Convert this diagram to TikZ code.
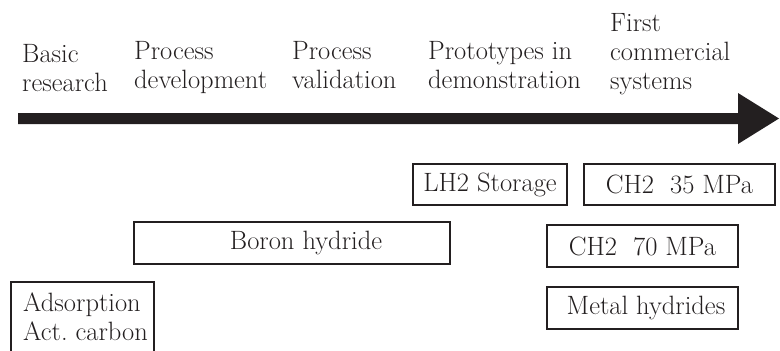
\documentclass[tikz,border=0pt]{standalone}
\definecolor{ink}{RGB}{35,31,32}
\tikzset{
  labelfont/.style={font=\fontsize{26.5}{29}\selectfont, text=ink},
  stage/.style={labelfont, anchor=base west, align=left, inner sep=0pt},
  techbox/.style={labelfont, draw=ink, line width=2.4pt, inner sep=0pt,
                  minimum height=41pt},
}
\begin{document}
\begin{tikzpicture}[x=1pt,y=-1pt]
\useasboundingbox (0,0) rectangle (780,351);
\clip (0,0) rectangle (780,351);

% timeline arrow
\coordinate (tail) at (18,118.5);
\coordinate (tip) at (779,118.5);
\fill[ink] (18,113) -- (738,113) -- (738,93) -- (tip) -- (738,144)
           -- (738,124) -- (18,124) -- cycle;

% development stages (anchored at the baseline of the last line)
\node[stage] (basic) at (22,91) {Basic\\research};
\node[stage] (pdev)  at (134,88) {Process\\development};
\node[stage] (pval)  at (292,88) {Process\\validation};
\node[stage] (proto) at (428,88) {Prototypes in\\demonstration};
\node[stage] (first) at (610,89) {First\\commercial\\systems};

% storage technologies
\node[techbox, minimum width=154pt] (lh2)   at (490,184.5) {LH2 Storage};
\node[techbox, minimum width=191pt] (ch35)  at (679.5,184.5) {CH2\ \ 35 MPa};
\node[techbox, minimum width=316pt, minimum height=42pt] (boron) at (292,243)
     {\hspace*{28pt}Boron hydride};
\node[techbox, minimum width=191pt, minimum height=42pt] (ch70)  at (642.5,246) {CH2\ \ 70 MPa};
\node[techbox, minimum width=191pt, minimum height=42pt] (metal) at (642.5,308)
     {\hspace*{7pt}Metal hydrides};

% open-bottomed box running off the lower edge
\draw[ink, line width=2.4pt] (11,365) -- (11,282) -- (154,282) -- (154,365);
\node[stage] (ads) at (23,340) {Adsorption\\Act.\ carbon};
\end{tikzpicture}
\end{document}
